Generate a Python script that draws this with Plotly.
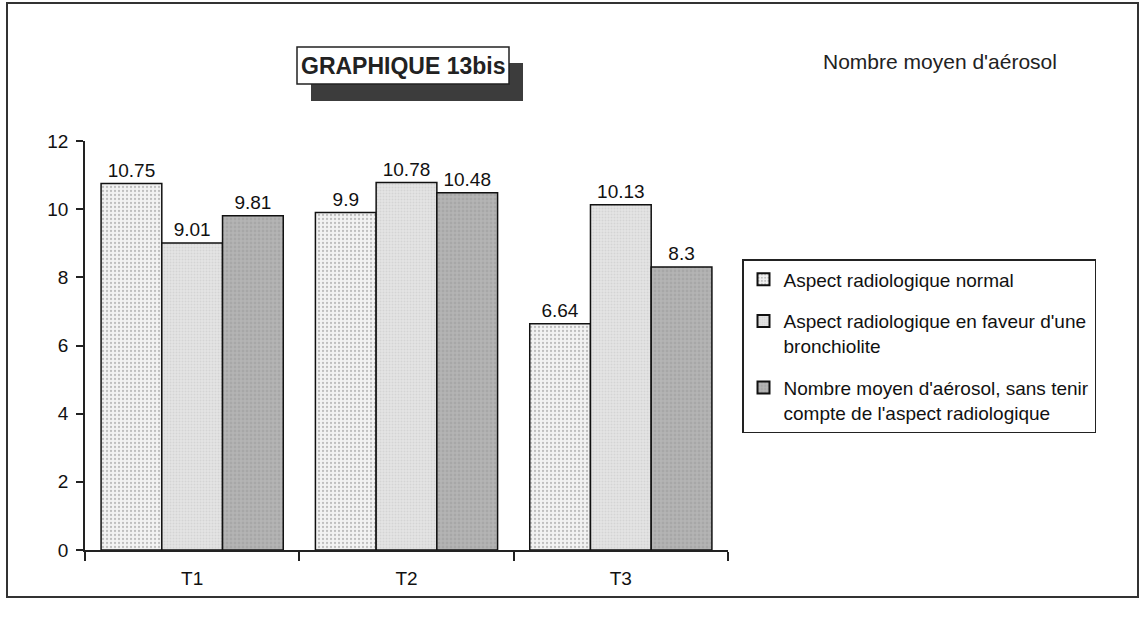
import plotly.graph_objects as go

categories = ["T1", "T2", "T3"]
series_names = [
    "Aspect radiologique normal",
    "Aspect radiologique en faveur d'une<br>bronchiolite",
    "Nombre moyen d'aérosol, sans tenir<br>compte de l'aspect radiologique",
]
normal = [10.75, 9.9, 6.64]
bronchiolite = [9.01, 10.78, 10.13]
global_mean = [9.81, 10.48, 8.3]
y_ticks = [0, 2, 4, 6, 8, 10, 12]

W, H = 1144, 622
L, R, T, B = 85, 416, 141, 72
pw, ph = W - L - R, H - T - B

def px(x):
    return (x - L) / pw

def py(y):
    return (H - B - y) / ph

FONT = "Liberation Sans, Arial, sans-serif"
FS = 19

styles = [
    dict(bg="#f2f2f2", fg="#8a8a8a", size=4, solidity=0.25),
    dict(bg="#e4e4e4", fg="#c4c4c4", size=3, solidity=0.35),
    dict(bg="#b4b4b4", fg="#9a9a9a", size=4, solidity=0.4),
]

fig = go.Figure()
for i, (name, vals, st) in enumerate(zip(series_names, [normal, bronchiolite, global_mean], styles)):
    fig.add_trace(go.Bar(
        x=categories, y=vals, name=name, legendgroup=f"g{i}",
        text=[f"{v:g}" for v in vals], textposition="outside",
        textfont=dict(family=FONT, size=FS, color="#111"),
        cliponaxis=False,
        marker=dict(
            color=st["bg"],
            line=dict(color="#111", width=1.5),
            pattern=dict(shape=".", fgcolor=st["fg"], bgcolor=st["bg"],
                         size=st["size"], solidity=st["solidity"], fillmode="overlay"),
        ),
    ))

shapes = [
    # outer frame
    dict(type="rect", xref="paper", yref="paper",
         x0=px(7), x1=px(1138), y0=py(597), y1=py(3),
         line=dict(color="#333", width=2), fillcolor="rgba(0,0,0,0)", layer="below"),
    # title shadow
    dict(type="rect", xref="paper", yref="paper",
         x0=px(311), x1=px(523), y0=py(101), y1=py(63),
         line=dict(width=0), fillcolor="#3c3c3c"),
    # title box
    dict(type="rect", xref="paper", yref="paper",
         x0=px(297), x1=px(509), y0=py(84), y1=py(47),
         line=dict(color="#222", width=1.5), fillcolor="white"),
]

annotations = [
    dict(text="<b>GRAPHIQUE 13bis</b>", xref="paper", yref="paper",
         x=px(403), y=py(66), showarrow=False,
         font=dict(family=FONT, size=23, color="#222"), xanchor="center", yanchor="middle"),
    dict(text="Nombre moyen d'aérosol", xref="paper", yref="paper",
         x=px(940), y=py(61), showarrow=False,
         font=dict(family=FONT, size=21, color="#222"), xanchor="center", yanchor="middle"),
]

fig.update_layout(
    width=W, height=H,
    margin=dict(l=L, r=R, t=T, b=B, pad=0),
    paper_bgcolor="white", plot_bgcolor="white",
    barmode="group", bargap=0.15, bargroupgap=0,
    showlegend=True,
    legend=dict(
        x=px(742), y=py(259), xanchor="left", yanchor="top",
        bordercolor="#222", borderwidth=1.5, bgcolor="white",
        font=dict(family=FONT, size=FS, color="#111"),
        tracegroupgap=14, itemsizing="constant",
        traceorder="grouped", valign="top",
    ),
    shapes=shapes, annotations=annotations,
    font=dict(family=FONT, color="#111"),
)
fig.update_xaxes(
    showline=True, linecolor="#222", linewidth=1.5,
    ticks="outside", tickson="boundaries", ticklen=9, tickcolor="#222", tickwidth=1.5,
    tickfont=dict(family=FONT, size=FS), showgrid=False, ticklabelstandoff=10,
)
fig.update_yaxes(
    range=[0, 12], tickvals=y_ticks, showline=True, linecolor="#222", linewidth=1.5,
    ticks="outside", ticklen=7, tickcolor="#222", tickwidth=1.5,
    tickfont=dict(family=FONT, size=FS), showgrid=False, zeroline=False,
    ticklabelstandoff=4,
)

fig.write_html("out.html")
